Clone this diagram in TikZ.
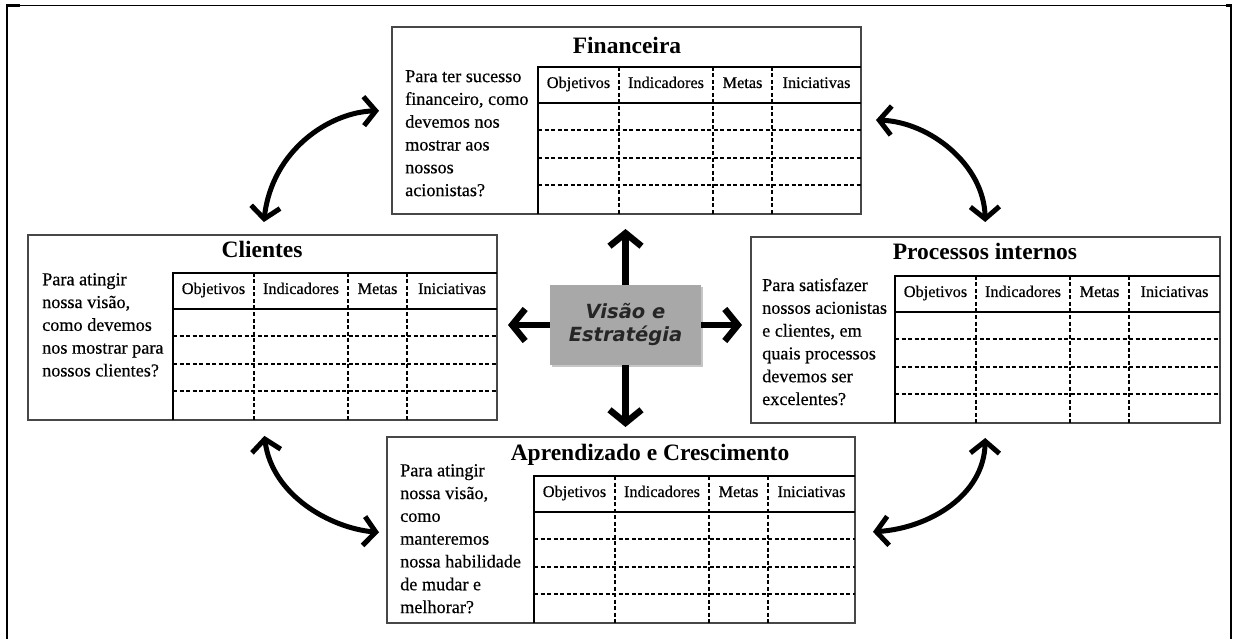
\documentclass[tikz,border=0pt]{standalone}
\usepackage{fontspec}
\setmainfont{Liberation Serif}
\newfontfamily\qfont{Liberation Serif}[FakeBold=0.45]
\newfontfamily\vefont{DejaVu Sans}
\usetikzlibrary{arrows.meta,fit,shadows}

\tikzset{
  cardbox/.style={draw=black!72, line width=2pt, inner sep=0pt},
  tline/.style={draw=black, line width=1.5pt},
  dline/.style={draw=black, line width=1.3pt, dash pattern=on 4pt off 2.5pt},
  cardtitle/.style={font=\fontsize{23.5}{27}\selectfont\bfseries, inner sep=0pt, anchor=base},
  qtext/.style={font=\qfont\fontsize{18.2}{22.8}\selectfont, align=left, anchor=north west, inner sep=0pt},
  hdr/.style={font=\qfont\fontsize{16.3}{19}\selectfont, inner sep=0pt, anchor=base},
  bigarrow/.style={line width=6.5pt, -{Straight Barb[length=13pt,width=32pt]}},
  curvarrow/.style={line width=5pt, {Straight Barb[length=12pt,width=29pt]}-{Straight Barb[length=12pt,width=29pt]}},
  framethick/.style={line width=2.5pt},
  framethin/.style={line width=1pt}
}

\newcommand\bsccard[6]{%
  \node[cardbox, fit={(#2,#3) (#4,{#6+147})}] (#1) {};
  \draw[tline] (#5,{#6+147}) -- (#5,#6) -- (#4,#6);
  \draw[tline] (#5,{#6+36}) -- (#4,{#6+36});
  \foreach \cx in {81,175,234} {\draw[dline] ({#5+\cx},#6) -- ({#5+\cx},{#6+147});}
  \foreach \ry in {63,91,118} {\draw[dline] (#5,{#6+\ry}) -- (#4,{#6+\ry});}
  \node[hdr] (#1-obj) at ({#5+40.5},{#6+21}) {Objetivos};
  \node[hdr] (#1-ind) at ({#5+128},{#6+21}) {Indicadores};
  \node[hdr] (#1-met) at ({#5+204.5},{#6+21}) {Metas};
  \node[hdr] (#1-ini) at ({(#5+234+#4)/2},{#6+21}) {Iniciativas};
}

\begin{document}
\begin{tikzpicture}[x=1pt,y=-1pt]
\useasboundingbox (0,0) rectangle (1235,639);

% outer frame
\draw[framethin] (7,5.5) -- (1231,5.5);
\draw[framethick] (7,4.5) -- (7,639);
\draw[framethick] (1231,4.5) -- (1231,639);
\draw[framethick] (7,5.5) -- (20,5.5);
\draw[framethick] (1226,5.5) -- (1231,5.5);

% cards
\bsccard{fin}{392}{27}{861}{538}{67}
\bsccard{cli}{28}{235}{497}{173}{273}
\bsccard{pro}{751}{237}{1220}{895}{276}
\bsccard{apr}{387}{437}{855}{534}{476}

% titles
\node[cardtitle] (fin-t) at (627,54) {Financeira};
\node[cardtitle] (cli-t) at (262,258) {Clientes};
\node[cardtitle] (pro-t) at (985,260) {Processos internos};
\node[cardtitle] (apr-t) at (650,460) {Aprendizado e Crescimento};

% questions
\node[qtext] (fin-q) at (405,70) {Para ter sucesso\\financeiro, como\\devemos nos\\mostrar aos\\nossos\\acionistas?};
\node[qtext] (cli-q) at (42,273) {Para atingir\\nossa visão,\\como devemos\\nos mostrar para\\nossos clientes?};
\node[qtext] (pro-q) at (762,278) {Para satisfazer\\nossos acionistas\\e clientes, em\\quais processos\\devemos ser\\excelentes?};
\node[qtext] (apr-q) at (400,464) {Para atingir\\nossa visão,\\como\\manteremos\\nossa habilidade\\de mudar e\\melhorar?};

% center
\node[fill=black!34, drop shadow={shadow xshift=2pt, shadow yshift=-2pt, opacity=0.45},
      minimum width=151pt, minimum height=80pt, inner sep=0pt,
      font=\vefont\bfseries\itshape\fontsize{19.5}{23}\selectfont, text=black!85, align=center]
      (ctr) at (625.5,325) {Visão e\\Estratégia};

% straight arrows
\draw[bigarrow, shorten >=14pt] (ctr.north) -- (ctr.north |- fin.south);
\draw[bigarrow, shorten >=10pt] (ctr.west) -- (ctr.west -| cli.east);
\draw[bigarrow, shorten >=8pt] (ctr.east) -- (ctr.east -| pro.west);
\draw[bigarrow, shorten >=9pt] (ctr.south) -- (ctr.south |- apr.north);

% curved double arrows
\draw[curvarrow, shorten <=12pt, shorten >=12pt]
  (cli.north) .. controls (272,150) and (330,112) .. ([yshift=10pt]fin.west);
\draw[curvarrow, shorten <=14pt, shorten >=14pt]
  ([yshift=1pt]fin.east) .. controls (930,122) and (984,165) .. (pro.north);
\draw[curvarrow, shorten <=15pt, shorten >=7pt]
  (cli.south) .. controls (272,495) and (330,528) .. ([yshift=-3pt]apr.west);
\draw[curvarrow, shorten <=17pt, shorten >=14pt]
  ([yshift=-3pt]apr.east) .. controls (930,528) and (984,495) .. (pro.south);
\end{tikzpicture}
\end{document}
